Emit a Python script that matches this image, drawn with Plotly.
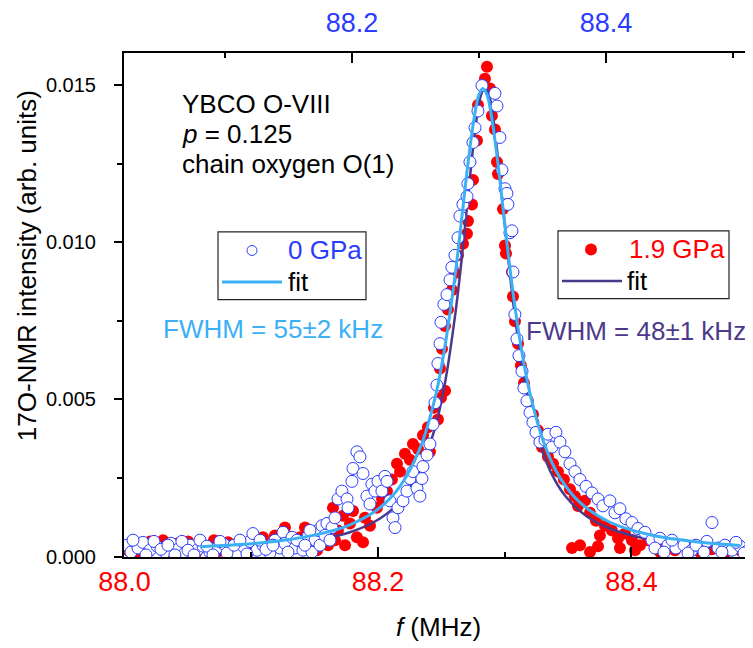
import plotly.graph_objects as go

# ---------------- data ----------------
# 1.9 GPa (red, bottom frequency axis)
f_19 = [88.0028, 88.0091, 88.0162, 88.0241, 88.0304, 88.0375, 88.0454, 88.0533, 88.0596, 88.0659,
        88.0706, 88.0769, 88.0848, 88.0927, 88.1006, 88.1093, 88.1148, 88.1211, 88.1266, 88.1306,
        88.1361, 88.1424, 88.1464, 88.1519, 88.1558, 88.1645, 88.1684, 88.1724, 88.1740, 88.1779,
        88.1803, 88.1834, 88.1882, 88.1897, 88.1937, 88.1992, 88.2032, 88.2071, 88.2110, 88.2150,
        88.2174, 88.2213, 88.2252, 88.2276, 88.2316, 88.2355, 88.2394, 88.2410, 88.2442, 88.2473,
        88.2489, 88.2497, 88.2505, 88.2529, 88.2529, 88.2552, 88.2584, 88.2607, 88.2631, 88.2671,
        88.2702, 88.2710, 88.2742, 88.2750, 88.2781, 88.2789, 88.2844, 88.2860, 88.2884, 88.2899,
        88.2923, 88.2939, 88.2947, 88.2986, 88.3002, 88.3010, 88.3057, 88.3065, 88.3081, 88.3105,
        88.3128, 88.3152, 88.3183, 88.3223, 88.3262, 88.3294, 88.3341, 88.3381, 88.3420, 88.3467,
        88.3515, 88.3531, 88.3554, 88.3578, 88.3594, 88.3633, 88.3673, 88.3673, 88.3720, 88.3736,
        88.3751, 88.3791, 88.3846, 88.3894, 88.3949, 88.4004, 88.4067, 88.4130, 88.4193, 88.4264,
        88.4343, 88.4446, 88.4540, 88.4635, 88.4738, 88.4856, 88.4935,
        88.0122, 88.0201, 88.0343, 88.0422, 88.0501, 88.0564, 88.0738, 88.0817, 88.0966, 88.1053,
        88.1187, 88.1385, 88.1495, 88.1606, 88.1661, 88.3909, 88.4028, 88.4225, 88.4501, 88.4777]
I_19 = [0.00020, 0.00036, 0.00014, 0.00030, 0.00052, 0.00011, 0.00033, 0.00020, 0.00045, 0.00027,
        0.00052, 0.00036, 0.00011, 0.00027, 0.00042, 0.00061, 0.00020, 0.00036, 0.00092, 0.00052,
        0.00027, 0.00092, 0.00042, 0.00020, 0.00058, 0.00155, 0.00083, 0.00130, 0.00036, 0.00105,
        0.00145, 0.00061, 0.00045, 0.00123, 0.00098, 0.00155, 0.00183, 0.00208, 0.00245, 0.00295,
        0.00270, 0.00327, 0.00308, 0.00358, 0.00342, 0.00386, 0.00411, 0.00333, 0.00473, 0.00436,
        0.00598, 0.00505, 0.00661, 0.00527, 0.00733, 0.00786, 0.00848, 0.00902, 0.00958, 0.00995,
        0.01027, 0.01067, 0.01120, 0.01198, 0.01323, 0.01436, 0.01520, 0.01558, 0.01489, 0.01402,
        0.01358, 0.01255, 0.01217, 0.01105, 0.00989, 0.00964, 0.00905, 0.00827, 0.00748, 0.00677,
        0.00608, 0.00552, 0.00495, 0.00452, 0.00402, 0.00348, 0.00317, 0.00295, 0.00270, 0.00245,
        0.00214, 0.00027, 0.00192, 0.00161, 0.00036, 0.00177, 0.00139, 0.00014, 0.00114, 0.00033,
        0.00067, 0.00098, 0.00083, 0.00058, 0.00073, 0.00052, 0.00036, 0.00052, 0.00027, 0.00036,
        0.00020, 0.00030, 0.00014, 0.00023, 0.00011, 0.00020, 0.00027,
        0.00011, 0.00048, 0.00027, 0.00042, 0.00048, 0.00011, 0.00017, 0.00045, 0.00014, 0.00033,
        0.00067, 0.00061, 0.00073, 0.00036, 0.00052, 0.00027, 0.00020, 0.00014, 0.00036, 0.00023]

# 0 GPa (blue, top frequency axis)
f_0 = [88.0228, 88.0260, 88.0315, 88.0354, 88.0409, 88.0465, 88.0528, 88.0575, 88.0630, 88.0685,
       88.0724, 88.0780, 88.0827, 88.0882, 88.0937, 88.0992, 88.1039, 88.1094, 88.1150, 88.1197,
       88.1220, 88.1252, 88.1299, 88.1354, 88.1394, 88.1433, 88.1457, 88.1472, 88.1528, 88.1551,
       88.1591, 88.1614, 88.1654, 88.1685, 88.1709, 88.1732, 88.1764, 88.1803, 88.1843, 88.1866,
       88.1890, 88.1921, 88.1961, 88.1969, 88.2000, 88.2008, 88.2039, 88.2063, 88.2087, 88.2118,
       88.2142, 88.2157, 88.2181, 88.2205, 88.2236, 88.2260, 88.2276, 88.2299, 88.2323, 88.2339,
       88.2362, 88.2402, 88.2433, 88.2457, 88.2480, 88.2512, 88.2535, 88.2551, 88.2559, 88.2591,
       88.2614, 88.2638, 88.2654, 88.2669, 88.2677, 88.2693, 88.2701, 88.2724, 88.2748, 88.2772,
       88.2787, 88.2811, 88.2835, 88.2850, 88.2874, 88.2906, 88.2913, 88.2929, 88.2953, 88.2969,
       88.2992, 88.3024, 88.3126, 88.3142, 88.3165, 88.3181, 88.3205, 88.3220, 88.3228, 88.3244,
       88.3260, 88.3268, 88.3283, 88.3299, 88.3315, 88.3339, 88.3354, 88.3378, 88.3402, 88.3425,
       88.3449, 88.3480, 88.3520, 88.3543, 88.3575, 88.3606, 88.3638, 88.3677, 88.3717, 88.3756,
       88.3795, 88.3843, 88.3890, 88.3937, 88.3976, 88.4031, 88.4071, 88.4110, 88.4157, 88.4205,
       88.4252, 88.4307, 88.4362, 88.4425, 88.4488, 88.4551, 88.4614, 88.4677, 88.4740, 88.4795,
       88.4835, 88.4882, 88.4937, 88.4992, 88.5055, 88.5118,
       88.0276, 88.0378, 88.0441, 88.0496, 88.0551, 88.0606, 88.0661, 88.0709, 88.0756, 88.0803,
       88.0858, 88.0906, 88.0961, 88.1016, 88.1071, 88.1118, 88.1173, 88.1276, 88.1323, 88.1378,
       88.1496, 88.1567, 88.1630, 88.1669, 88.1748, 88.1787, 88.1827,
       88.4386, 88.4457, 88.4520, 88.4646, 88.4709, 88.4772, 88.4913, 88.5024, 88.5087, 88.5150]
I_0 = [0.00036, 0.00014, 0.00027, 0.00045, 0.00020, 0.00033, 0.00014, 0.00042, 0.00023, 0.00011,
       0.00036, 0.00020, 0.00033, 0.00014, 0.00027, 0.00039, 0.00020, 0.00011, 0.00030, 0.00048,
       0.00073, 0.00020, 0.00036, 0.00011, 0.00052, 0.00027, 0.00077, 0.00042, 0.00061, 0.00027,
       0.00048, 0.00020, 0.00064, 0.00014, 0.00052, 0.00083, 0.00098, 0.00105, 0.00092, 0.00123,
       0.00183, 0.00208, 0.00183, 0.00155, 0.00239, 0.00280, 0.00333, 0.00317, 0.00264, 0.00192,
       0.00167, 0.00230, 0.00208, 0.00239, 0.00208, 0.00255, 0.00239, 0.00177, 0.00123, 0.00092,
       0.00155, 0.00177, 0.00208, 0.00248, 0.00270, 0.00217, 0.00192, 0.00248, 0.00286, 0.00323,
       0.00358, 0.00420, 0.00489, 0.00545, 0.00614, 0.00677, 0.00745, 0.00802, 0.00833, 0.00880,
       0.00920, 0.00958, 0.01014, 0.01083, 0.01120, 0.01145, 0.01186, 0.01255, 0.01317, 0.01364,
       0.01417, 0.01498, 0.01473, 0.01433, 0.01333, 0.01230, 0.01170, 0.01155, 0.01120, 0.01030,
       0.01036, 0.00905, 0.00770, 0.00692, 0.00639, 0.00589, 0.00536, 0.00495, 0.00458, 0.00427,
       0.00395, 0.00364, 0.00370, 0.00389, 0.00348, 0.00395, 0.00364, 0.00333, 0.00295, 0.00270,
       0.00245, 0.00223, 0.00202, 0.00183, 0.00161, 0.00177, 0.00139, 0.00152, 0.00120, 0.00108,
       0.00089, 0.00077, 0.00052, 0.00058, 0.00036, 0.00027, 0.00036, 0.00020, 0.00030, 0.00048,
       0.00108, 0.00027, 0.00036, 0.00020, 0.00033, 0.00020,
       0.00052, 0.00005, 0.00048, 0.00023, 0.00036, 0.00005, 0.00048, 0.00020, 0.00005, 0.00052,
       0.00033, 0.00005, 0.00048, 0.00011, 0.00036, 0.00052, 0.00008, 0.00052, 0.00023, 0.00036,
       0.00014, 0.00052, 0.00036, 0.00083, 0.00036, 0.00067, 0.00052,
       0.00027, 0.00014, 0.00052, 0.00011, 0.00036, 0.00014, 0.00014, 0.00045, 0.00011, 0.00036]

# fit curves
fit0_f = [88.0803, 88.1118, 88.1433, 88.1748, 88.1984, 88.2220, 88.2378, 88.2535, 88.2654, 88.2732,
          88.2811, 88.2866, 88.2913, 88.2961, 88.3000, 88.3031, 88.3063, 88.3102, 88.3150, 88.3197,
          88.3252, 88.3323, 88.3402, 88.3520, 88.3638, 88.3795, 88.4031, 88.4346, 88.4740, 88.5055]
fit0_I = [0.00031, 0.00038, 0.00050, 0.00072, 0.00101, 0.00155, 0.00223, 0.00344, 0.00504, 0.00668,
          0.00891, 0.01081, 0.01248, 0.01392, 0.01469, 0.01489, 0.01469, 0.01392, 0.01248, 0.01081,
          0.00891, 0.00687, 0.00518, 0.00352, 0.00251, 0.00172, 0.00109, 0.00069, 0.00045, 0.00035]
fit19_f = [88.0596, 88.0911, 88.1227, 88.1542, 88.1779, 88.2016, 88.2174, 88.2331, 88.2450, 88.2529,
           88.2607, 88.2663, 88.2710, 88.2757, 88.2805, 88.2844, 88.2884, 88.2931, 88.2978, 88.3026,
           88.3081, 88.3160, 88.3239, 88.3357, 88.3475, 88.3633, 88.3830, 88.4146, 88.4540, 88.4856]
fit19_I = [0.00022, 0.00028, 0.00037, 0.00054, 0.00077, 0.00121, 0.00175, 0.00274, 0.00409, 0.00553,
           0.00762, 0.00955, 0.01142, 0.01323, 0.01456, 0.01495, 0.01456, 0.01323, 0.01142, 0.00955,
           0.00762, 0.00553, 0.00409, 0.00274, 0.00194, 0.00132, 0.00089, 0.00054, 0.00034, 0.00026]

bottom_ticks = [88.0, 88.2, 88.4]
top_ticks = [88.2, 88.4]
y_ticks = [0.0, 0.005, 0.010, 0.015]

# ---------------- style ----------------
FONT = "Arial, Liberation Sans, sans-serif"
RED = "#ff0000"
BLUE = "#2a3dff"
LBLUE = "#3cb0f5"
PURPLE = "#4b3a8c"

fig = go.Figure()
fig.add_trace(go.Scatter(x=f_19, y=I_19, mode="markers", xaxis="x", yaxis="y",
                         marker=dict(size=12, color=RED, line=dict(width=0)), showlegend=False))
fig.add_trace(go.Scatter(x=fit19_f, y=fit19_I, mode="lines", xaxis="x", yaxis="y",
                         line=dict(color=PURPLE, width=2.5, shape="spline"), showlegend=False))
fig.add_trace(go.Scatter(x=f_0, y=I_0, mode="markers", xaxis="x2", yaxis="y",
                         marker=dict(size=12, color="white", line=dict(color=BLUE, width=1)),
                         showlegend=False))
fig.add_trace(go.Scatter(x=fit0_f, y=fit0_I, mode="lines", xaxis="x2", yaxis="y",
                         line=dict(color=LBLUE, width=3, shape="spline"), showlegend=False))

# page has an 8 px body margin: figure is 745x640, screen = figure + 8
OFF = 8
W, H = 753 - OFF, 648 - OFF
SL, ST, SB, SR = 124, 44, 557, 753  # plot-area edges on screen
pw = SR - SL
ph = SB - ST


def px(x):
    return (x - SL) / pw


def py(y):
    return (SB - y) / ph


shapes = []
# legend boxes
shapes.append(dict(type="rect", xref="paper", yref="paper", x0=px(218), x1=px(366), y0=py(295), y1=py(226),
                   line=dict(color="#222", width=1.2), fillcolor="rgba(0,0,0,0)"))
shapes.append(dict(type="rect", xref="paper", yref="paper", x0=px(558), x1=px(729), y0=py(294), y1=py(225),
                   line=dict(color="#222", width=1.2), fillcolor="rgba(0,0,0,0)"))
shapes.append(dict(type="circle", xref="paper", yref="paper", xsizemode="pixel", ysizemode="pixel",
                   xanchor=px(252), yanchor=py(245), x0=-5, x1=5, y0=-5, y1=5,
                   line=dict(color=BLUE, width=1), fillcolor="white"))
shapes.append(dict(type="line", xref="paper", yref="paper", x0=px(222), x1=px(282), y0=py(277), y1=py(277),
                   line=dict(color=LBLUE, width=3)))
shapes.append(dict(type="circle", xref="paper", yref="paper", xsizemode="pixel", ysizemode="pixel",
                   xanchor=px(591), yanchor=py(244), x0=-6, x1=6, y0=-6, y1=6,
                   line=dict(color=RED, width=0), fillcolor=RED))
shapes.append(dict(type="line", xref="paper", yref="paper", x0=px(562), x1=px(622), y0=py(276), y1=py(276),
                   line=dict(color=PURPLE, width=2.5)))

ann = []


def add_text(text, x, y, color="black", size=26, anchor="left"):
    ann.append(dict(text=text, xref="paper", yref="paper", x=px(x), y=py(y), xanchor=anchor, yanchor="middle",
                    showarrow=False, font=dict(family=FONT, size=size, color=color)))


add_text("YBCO O-VIII", 180, 96)
add_text("<i>p</i> = 0.125", 180, 126)
add_text("chain oxygen O(1)", 180, 157)
add_text("0 GPa", 286, 245, BLUE)
add_text("fit", 286, 277)
add_text("1.9 GPa", 627, 244, RED)
add_text("fit", 625, 276)
add_text("FWHM = 55±2 kHz", 161, 325, LBLUE)
add_text("FWHM = 48±1 kHz", 524, 327, PURPLE)
# y-axis title
ann.append(dict(text="17O-NMR intensity (arb. units)", xref="paper", yref="paper", x=px(27), y=py(261),
                xanchor="center", yanchor="middle", textangle=-90, showarrow=False,
                font=dict(family=FONT, size=26, color="black")))

fig.update_layout(
    width=W, height=H,
    margin=dict(l=SL - OFF, r=0, t=ST - OFF, b=H - (SB - OFF), pad=0),
    paper_bgcolor="white", plot_bgcolor="white",
    showlegend=False,
    font=dict(family=FONT, color="black"),
    xaxis=dict(range=[87.9996, 88.4959], tickvals=bottom_ticks, ticktext=["88.0", "88.2", "88.4"],
               ticks="inside", ticklen=10, tickwidth=2, tickcolor="black",
               minor=dict(tickvals=[88.1, 88.3], ticks="inside", ticklen=5, tickwidth=2, tickcolor="black"),
               showline=True, linecolor="black", linewidth=2, showgrid=False, zeroline=False,
               tickfont=dict(family=FONT, size=27, color=RED), ticklabelstandoff=0,
               title=dict(text="<i>f</i> (MHz)", font=dict(family=FONT, size=26, color="black"), standoff=21)),
    xaxis2=dict(range=[88.0205, 88.5158], overlaying="x", side="top", anchor="y",
                tickvals=top_ticks, ticktext=["88.2", "88.4"],
                ticks="inside", ticklen=10, tickwidth=2, tickcolor="black",
                minor=dict(tickvals=[88.1, 88.3, 88.5], ticks="inside", ticklen=5, tickwidth=2, tickcolor="black"),
                showline=True, linecolor="black", linewidth=2, showgrid=False, zeroline=False,
                tickfont=dict(family=FONT, size=27, color=BLUE), ticklabelstandoff=8),
    yaxis=dict(range=[-0.0000156, 0.016016], tickvals=y_ticks, ticktext=["0.000", "0.005", "0.010", "0.015"],
               ticks="outside", ticklen=8, tickwidth=2, tickcolor="black",
               minor=dict(tickvals=[0.0025, 0.0075, 0.0125], ticks="outside", ticklen=5, tickwidth=2,
                          tickcolor="black"),
               showline=True, linecolor="black", linewidth=2, showgrid=False, zeroline=False,
               tickfont=dict(family=FONT, size=20, color="black"), ticklabelstandoff=14),
    shapes=shapes,
    annotations=ann,
)

fig.write_html("out.html")
